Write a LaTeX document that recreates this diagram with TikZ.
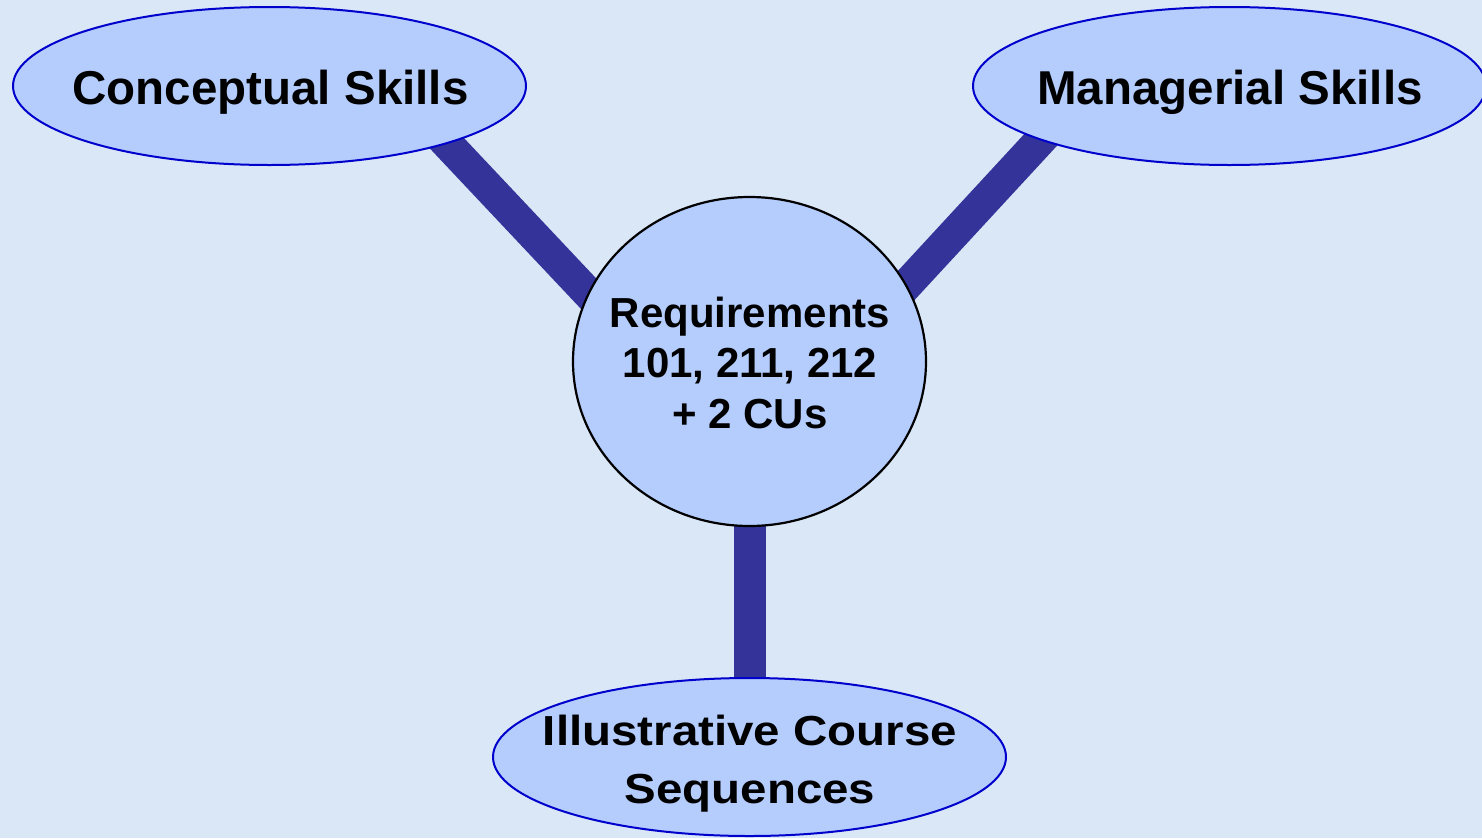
\documentclass[tikz,border=0pt]{standalone}
\usepackage{fontspec}
\setmainfont{Liberation Sans}
\newfontfamily\widesans[FakeStretch=1.13]{Liberation Sans}
\usetikzlibrary{shapes.geometric}
\definecolor{paper}{HTML}{DAE7F7}
\definecolor{bubble}{HTML}{B4CDFD}
\definecolor{rim}{HTML}{0000CC}
\definecolor{spoke}{HTML}{333399}
\pgfdeclarelayer{backdrop}
\pgfdeclarelayer{links}
\pgfsetlayers{backdrop,links,main}
\tikzset{
  skill/.style={ellipse, draw=rim, line width=2pt, fill=bubble, inner sep=0pt,
    minimum width=513pt, minimum height=158pt},
  hub/.style={ellipse, draw=black, line width=2.2pt, fill=bubble, inner sep=0pt,
    minimum width=353pt, minimum height=329pt},
  caption/.style={anchor=base, inner sep=0pt, align=center,
    font=\fontsize{47.5}{57}\selectfont\bfseries},
  link/.style={draw=spoke, line width=32pt, line cap=butt,
    shorten <=-25pt, shorten >=-25pt}
}
\begin{document}
\begin{tikzpicture}[x=1pt, y=-1pt]
  \useasboundingbox (0,0) rectangle (1482,838);
  \begin{pgfonlayer}{backdrop}
    \fill[paper] (0,0) rectangle (1482,838);
  \end{pgfonlayer}
  \clip (0,0) rectangle (1482,838);

  % the three skill areas and the central requirements hub
  \node[skill] (concept) at (269.5,86) {};
  \node[skill] (manage)  at (1229.5,86) {};
  \node[skill] (illus)   at (749.5,757) {};
  \node[hub]   (req)     at (749.5,361.5) {};

  % their captions (base anchor sits on the last line's baseline)
  \node[caption] (conceptText) at (270.5,104) {Conceptual Skills};
  \node[caption] (manageText)  at (1230,104) {Managerial Skills};
  \node[caption, font=\fontsize{42}{58}\widesans\bfseries]
    (illusText) at (750,803) {Illustrative Course\\Sequences};
  \node[caption, font=\fontsize{42}{50.5}\selectfont\bfseries]
    (reqText) at (750,428) {Requirements\\101, 211, 212\\+ 2 CUs};

  % thick spokes tying the hub to each area, drawn beneath the shapes
  \begin{pgfonlayer}{links}
    \draw[link] (concept.-18.3) -- (req.157.3);
    \draw[link] (manage.196.6) -- (req.26.5);
    \draw[link] (req.south) -- (illus.north);
  \end{pgfonlayer}
\end{tikzpicture}
\end{document}
